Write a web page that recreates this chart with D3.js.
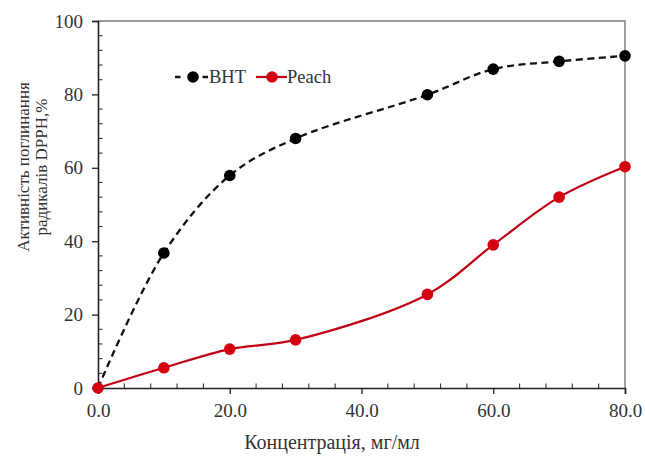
<!DOCTYPE html>
<html><head><meta charset="utf-8">
<script src="https://cdn.jsdelivr.net/npm/d3@7"></script>
<style>body{margin:0;background:#fff}svg{display:block}text{font-family:"Liberation Serif","Times New Roman",serif;fill:#333}</style>
</head><body>
<script>
const concentrations = [0, 10, 20, 30, 50, 60, 70, 80];
const bhtValues = [0, 36.8, 57.9, 68.0, 79.9, 86.9, 89.0, 90.5];
const peachValues = [0, 5.5, 10.6, 13.1, 25.5, 39.0, 52.0, 60.3];
const xTicks = [0, 20, 40, 60, 80];
const yTicks = [0, 20, 40, 60, 80, 100];
const seriesNames = ["BHT", "Peach"];
const yTitleLines = ["Активність поглинання", "радикалів DPPH,%"];

const W = 645, H = 457;
const m = {l: 98, r: 20, t: 21, b: 69};
const svg = d3.select("body").append("svg").attr("width", W).attr("height", H);
const x = d3.scaleLinear().domain([0, 80]).range([m.l, W - m.r]);
const y = d3.scaleLinear().domain([0, 100]).range([H - m.b, m.t]);

// frame (top and right)
svg.append("path").attr("d", `M${x(0)},${y(100)}H${x(80)}V${y(0)}`)
  .attr("fill","none").attr("stroke","#7a7a7a").attr("stroke-width",1.4);

// minor ticks inside
const xMinor = d3.range(0, 81, 4).filter(v => v % 20 !== 0);
const yMinor = d3.range(0, 101, 4).filter(v => v % 20 !== 0);
svg.append("g").selectAll("line").data(xMinor).join("line")
  .attr("x1", d => x(d)).attr("x2", d => x(d)).attr("y1", y(0)).attr("y2", y(0) - 4.5)
  .attr("stroke", "#333").attr("stroke-width", 1.1);
svg.append("g").selectAll("line").data(yMinor).join("line")
  .attr("y1", d => y(d)).attr("y2", d => y(d)).attr("x1", x(0)).attr("x2", x(0) + 4.5)
  .attr("stroke", "#333").attr("stroke-width", 1.1);

const xAxis = svg.append("g").attr("transform", `translate(0,${y(0)})`)
  .call(d3.axisBottom(x).tickValues(xTicks).tickFormat(d3.format(".1f")).tickSize(6).tickPadding(10));
const yAxis = svg.append("g").attr("transform", `translate(${x(0)},0)`)
  .call(d3.axisLeft(y).tickValues(yTicks).tickSize(6).tickPadding(9));
[xAxis, yAxis].forEach(g => {
  g.attr("font-family", null);
  g.select(".domain").attr("stroke", "#222").attr("stroke-width", 1.6);
  g.selectAll(".tick line").attr("stroke", "#222").attr("stroke-width", 1.3);
  g.selectAll("text").attr("font-size", 19).attr("fill", "#3a3a48")
    .style("font-family", '"Liberation Serif", serif');
});

const line = d3.line().x(d => x(d[0])).y(d => y(d[1])).curve(d3.curveCatmullRom.alpha(0.5));
const bht = concentrations.map((c, i) => [c, bhtValues[i]]);
const peach = concentrations.map((c, i) => [c, peachValues[i]]);

svg.append("path").datum(bht).attr("d", line).attr("fill", "none")
  .attr("stroke", "#111").attr("stroke-width", 2.3).attr("stroke-dasharray", "7,4.5");
svg.append("path").datum(peach).attr("d", line).attr("fill", "none")
  .attr("stroke", "#c00012").attr("stroke-width", 2.2);

svg.append("g").selectAll("circle").data(bht.slice(1)).join("circle")
  .attr("cx", d => x(d[0])).attr("cy", d => y(d[1])).attr("r", 5.8).attr("fill", "#000");
svg.append("g").selectAll("circle").data(peach).join("circle")
  .attr("cx", d => x(d[0])).attr("cy", d => y(d[1])).attr("r", 5.8).attr("fill", "#d40012");

// legend
const lg = svg.append("g");
const ly = 77;
lg.append("line").attr("x1", 175).attr("x2", 208).attr("y1", ly).attr("y2", ly)
  .attr("stroke", "#111").attr("stroke-width", 2.3).attr("stroke-dasharray", "5.5,22");
lg.append("circle").attr("cx", 193).attr("cy", ly).attr("r", 5.8).attr("fill", "#000");
lg.append("text").attr("x", 209).attr("y", ly + 6).attr("font-size", 18.5).text(seriesNames[0]);
lg.append("line").attr("x1", 256).attr("x2", 287).attr("y1", ly).attr("y2", ly)
  .attr("stroke", "#c00012").attr("stroke-width", 2.2);
lg.append("circle").attr("cx", 272).attr("cy", ly).attr("r", 5.8).attr("fill", "#d40012");
lg.append("text").attr("x", 287).attr("y", ly + 6).attr("font-size", 18.5).text(seriesNames[1]);

// axis titles
svg.append("text").attr("x", 332).attr("y", 449).attr("text-anchor", "middle")
  .attr("font-size", 20).text("Концентрація, мг/мл");
svg.append("g").selectAll("text").data(yTitleLines).join("text")
  .attr("transform", (d, i) => `translate(${29 + i * 18},167) rotate(-90)`)
  .attr("text-anchor", "middle").attr("font-size", 17).text(d => d);
</script>
</body></html>
